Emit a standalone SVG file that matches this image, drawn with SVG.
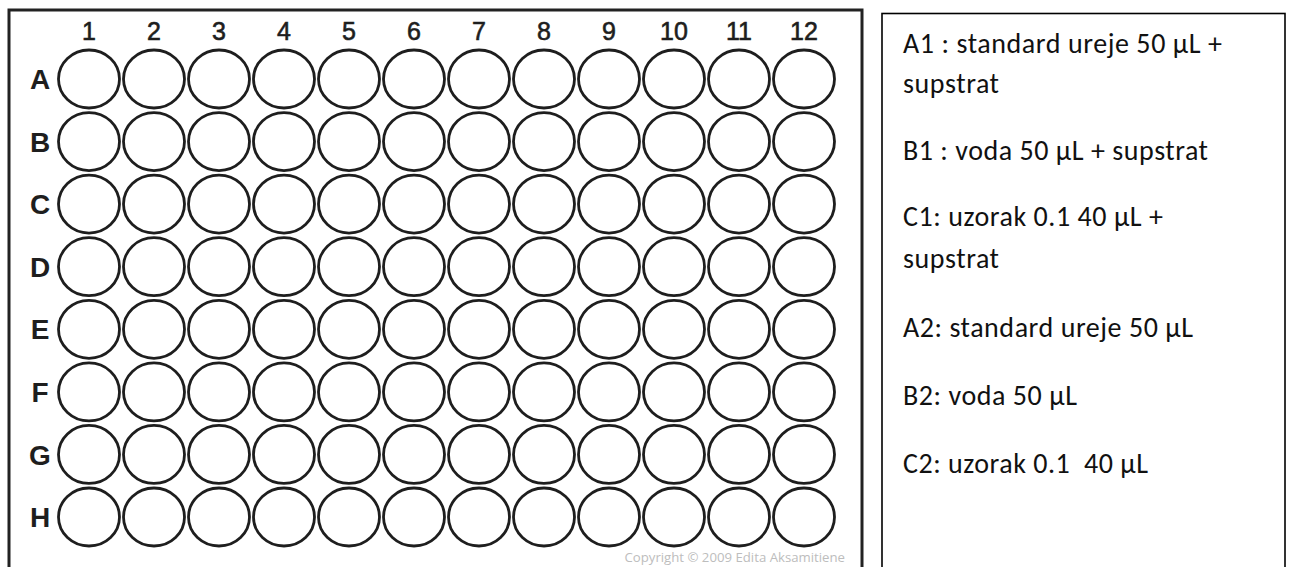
<svg xmlns="http://www.w3.org/2000/svg" width="1290" height="567" viewBox="0 0 1290 567">
<style>
.well{fill:#fff;stroke:#1e1e1e;stroke-width:2.8}
.col{font-family:"Liberation Sans",Arial,sans-serif;font-size:25px;fill:#1e1e1e;stroke:#1e1e1e;stroke-width:0.6;text-anchor:middle}
.row{font-family:"Liberation Sans",Arial,sans-serif;font-size:28px;font-weight:bold;fill:#1e1e1e;text-anchor:middle}
.note{font-family:Carlito,Calibri,Lato,"Open Sans",sans-serif;font-size:28px;fill:#111}
.copy{font-family:"Open Sans","DejaVu Sans",sans-serif;font-size:13.2px;fill:#bdbdbd;text-anchor:end}
</style>
<rect width="1290" height="567" fill="#fff"/>
<g id="plate">
<rect x="9" y="10" width="853" height="570" fill="#fff" stroke="#222" stroke-width="3"/>
<g id="col-labels">
<text class="col" x="89" y="40">1</text><text class="col" x="154" y="40">2</text><text class="col" x="219" y="40">3</text><text class="col" x="284" y="40">4</text><text class="col" x="349" y="40">5</text><text class="col" x="414" y="40">6</text><text class="col" x="479" y="40">7</text><text class="col" x="544" y="40">8</text><text class="col" x="609" y="40">9</text><text class="col" x="674" y="40">10</text><text class="col" x="739" y="40">11</text><text class="col" x="804" y="40">12</text>
</g>
<g id="row-labels">
<text class="row" x="40" y="89">A</text><text class="row" x="40" y="152">B</text><text class="row" x="40" y="214">C</text><text class="row" x="40" y="277">D</text><text class="row" x="40" y="339">E</text><text class="row" x="40" y="402">F</text><text class="row" x="40" y="465">G</text><text class="row" x="40" y="527">H</text>
</g>
<defs><ellipse id="w" cx="0" cy="0" rx="30.5" ry="29" class="well"/></defs>
<g id="wells">
<g id="rowA"><use href="#w" x="89" y="79"/><use href="#w" x="154" y="79"/><use href="#w" x="219" y="79"/><use href="#w" x="284" y="79"/><use href="#w" x="349" y="79"/><use href="#w" x="414" y="79"/><use href="#w" x="479" y="79"/><use href="#w" x="544" y="79"/><use href="#w" x="609" y="79"/><use href="#w" x="674" y="79"/><use href="#w" x="739" y="79"/><use href="#w" x="804" y="79"/></g>
<g id="rowB"><use href="#w" x="89" y="141.6"/><use href="#w" x="154" y="141.6"/><use href="#w" x="219" y="141.6"/><use href="#w" x="284" y="141.6"/><use href="#w" x="349" y="141.6"/><use href="#w" x="414" y="141.6"/><use href="#w" x="479" y="141.6"/><use href="#w" x="544" y="141.6"/><use href="#w" x="609" y="141.6"/><use href="#w" x="674" y="141.6"/><use href="#w" x="739" y="141.6"/><use href="#w" x="804" y="141.6"/></g>
<g id="rowC"><use href="#w" x="89" y="204.1"/><use href="#w" x="154" y="204.1"/><use href="#w" x="219" y="204.1"/><use href="#w" x="284" y="204.1"/><use href="#w" x="349" y="204.1"/><use href="#w" x="414" y="204.1"/><use href="#w" x="479" y="204.1"/><use href="#w" x="544" y="204.1"/><use href="#w" x="609" y="204.1"/><use href="#w" x="674" y="204.1"/><use href="#w" x="739" y="204.1"/><use href="#w" x="804" y="204.1"/></g>
<g id="rowD"><use href="#w" x="89" y="266.7"/><use href="#w" x="154" y="266.7"/><use href="#w" x="219" y="266.7"/><use href="#w" x="284" y="266.7"/><use href="#w" x="349" y="266.7"/><use href="#w" x="414" y="266.7"/><use href="#w" x="479" y="266.7"/><use href="#w" x="544" y="266.7"/><use href="#w" x="609" y="266.7"/><use href="#w" x="674" y="266.7"/><use href="#w" x="739" y="266.7"/><use href="#w" x="804" y="266.7"/></g>
<g id="rowE"><use href="#w" x="89" y="329.3"/><use href="#w" x="154" y="329.3"/><use href="#w" x="219" y="329.3"/><use href="#w" x="284" y="329.3"/><use href="#w" x="349" y="329.3"/><use href="#w" x="414" y="329.3"/><use href="#w" x="479" y="329.3"/><use href="#w" x="544" y="329.3"/><use href="#w" x="609" y="329.3"/><use href="#w" x="674" y="329.3"/><use href="#w" x="739" y="329.3"/><use href="#w" x="804" y="329.3"/></g>
<g id="rowF"><use href="#w" x="89" y="391.9"/><use href="#w" x="154" y="391.9"/><use href="#w" x="219" y="391.9"/><use href="#w" x="284" y="391.9"/><use href="#w" x="349" y="391.9"/><use href="#w" x="414" y="391.9"/><use href="#w" x="479" y="391.9"/><use href="#w" x="544" y="391.9"/><use href="#w" x="609" y="391.9"/><use href="#w" x="674" y="391.9"/><use href="#w" x="739" y="391.9"/><use href="#w" x="804" y="391.9"/></g>
<g id="rowG"><use href="#w" x="89" y="454.4"/><use href="#w" x="154" y="454.4"/><use href="#w" x="219" y="454.4"/><use href="#w" x="284" y="454.4"/><use href="#w" x="349" y="454.4"/><use href="#w" x="414" y="454.4"/><use href="#w" x="479" y="454.4"/><use href="#w" x="544" y="454.4"/><use href="#w" x="609" y="454.4"/><use href="#w" x="674" y="454.4"/><use href="#w" x="739" y="454.4"/><use href="#w" x="804" y="454.4"/></g>
<g id="rowH"><use href="#w" x="89" y="517"/><use href="#w" x="154" y="517"/><use href="#w" x="219" y="517"/><use href="#w" x="284" y="517"/><use href="#w" x="349" y="517"/><use href="#w" x="414" y="517"/><use href="#w" x="479" y="517"/><use href="#w" x="544" y="517"/><use href="#w" x="609" y="517"/><use href="#w" x="674" y="517"/><use href="#w" x="739" y="517"/><use href="#w" x="804" y="517"/></g>
</g>
<text class="copy" x="845" y="562">Copyright © 2009 Edita Aksamitiene</text>
</g>
<g id="legend">
<rect x="882" y="13.5" width="403" height="570" fill="#fff" stroke="#000" stroke-width="1.6"/>
<text class="note" x="903" y="53" textLength="319" lengthAdjust="spacing">A1 : standard ureje 50 µL +</text>
<text class="note" x="903" y="93" textLength="96" lengthAdjust="spacing">supstrat</text>
<text class="note" x="903" y="160" textLength="305" lengthAdjust="spacing">B1 : voda 50 µL + supstrat</text>
<text class="note" x="903" y="226" textLength="260" lengthAdjust="spacing">C1: uzorak 0.1 40 µL +</text>
<text class="note" x="903" y="268" textLength="96" lengthAdjust="spacing">supstrat</text>
<text class="note" x="903" y="337" textLength="290" lengthAdjust="spacing">A2: standard ureje 50 µL</text>
<text class="note" x="903" y="405" textLength="174" lengthAdjust="spacing">B2: voda 50 µL</text>
<text class="note" x="903" y="473" textLength="245" lengthAdjust="spacing" xml:space="preserve">C2: uzorak 0.1  40 µL</text>
</g>
</svg>
